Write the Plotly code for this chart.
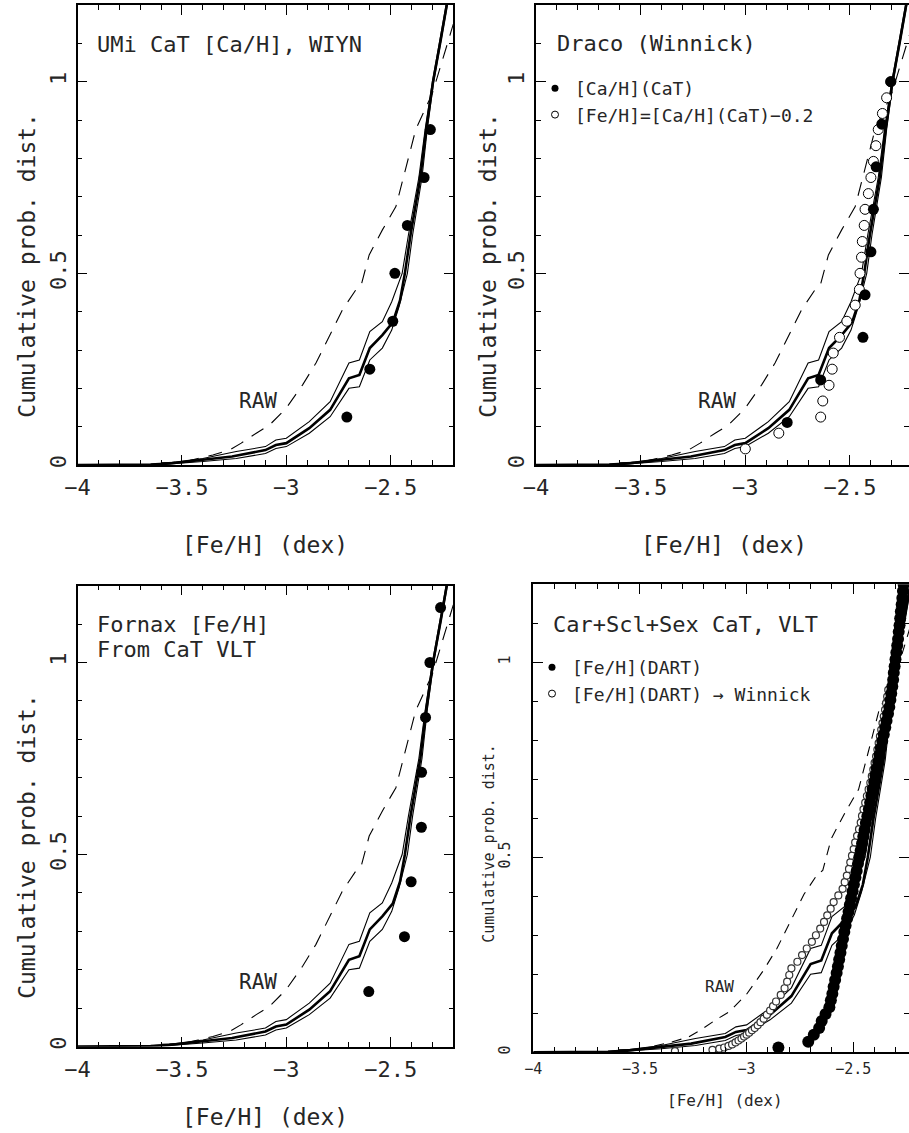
import plotly.graph_objects as go

FONT = "DejaVu Sans Mono"
TXT = "#262626"

# ---------------- model curves (same in every panel) ----------------
mid_x = [-4.00, -3.80, -3.65, -3.56, -3.40, -3.26, -3.10, -3.05, -3.00, -2.89, -2.79, -2.70,
         -2.65, -2.60, -2.54, -2.49, -2.455, -2.432, -2.405, -2.358, -2.330, -2.297, -2.260, -2.225]
mid_y = [0.0, 0.0, 0.001, 0.004, 0.013, 0.022, 0.039, 0.052, 0.057, 0.096, 0.144, 0.226,
         0.235, 0.305, 0.339, 0.372, 0.43, 0.50, 0.60, 0.75, 0.875, 1.0, 1.11, 1.22]

hi_x = [-4.00, -3.80, -3.65, -3.56, -3.40, -3.24, -3.10, -3.05, -3.00, -2.89, -2.79, -2.70,
        -2.65, -2.60, -2.54, -2.495, -2.445, -2.415, -2.365, -2.335, -2.300, -2.262, -2.228]
hi_y = [0.0, 0.0, 0.002, 0.006, 0.017, 0.035, 0.048, 0.065, 0.070, 0.113, 0.165, 0.266,
        0.274, 0.348, 0.374, 0.426, 0.50, 0.60, 0.75, 0.875, 1.0, 1.11, 1.22]

lo_x = [-4.00, -3.80, -3.65, -3.56, -3.40, -3.24, -3.10, -3.05, -3.00, -2.89, -2.79, -2.70,
        -2.65, -2.60, -2.54, -2.495, -2.46, -2.42, -2.395, -2.350, -2.325, -2.294, -2.258, -2.222]
lo_y = [0.0, 0.0, 0.0005, 0.003, 0.009, 0.017, 0.030, 0.043, 0.048, 0.083, 0.126, 0.200,
        0.204, 0.274, 0.305, 0.352, 0.413, 0.50, 0.60, 0.75, 0.875, 1.0, 1.11, 1.22]

raw_x = [-3.60, -3.495, -3.423, -3.352, -3.272, -3.216, -3.144, -3.081, -3.001, -2.985, -2.922,
         -2.858, -2.794, -2.731, -2.667, -2.643, -2.603, -2.539, -2.475, -2.412, -2.380, -2.30,
         -2.25, -2.20]
raw_y = [0.006, 0.008, 0.017, 0.026, 0.039, 0.057, 0.083, 0.104, 0.148, 0.161, 0.209,
         0.266, 0.335, 0.405, 0.457, 0.466, 0.548, 0.614, 0.674, 0.805, 0.875, 0.97,
         1.06, 1.15]

# ---------------- panel 1: UMi ----------------
umi_x = [-2.71, -2.60, -2.49, -2.48, -2.42, -2.34, -2.31]
umi_y = [0.125, 0.25, 0.375, 0.5, 0.625, 0.75, 0.875]

# ---------------- panel 2: Draco ----------------
dra_ca_x = [-2.80, -2.64, -2.438, -2.428, -2.400, -2.388, -2.375, -2.348, -2.305]
dra_ca_y = [0.111, 0.222, 0.333, 0.444, 0.556, 0.667, 0.778, 0.889, 1.0]

dra_fe_x = [-3.00, -2.84, -2.64, -2.63, -2.60, -2.585, -2.58, -2.55, -2.515, -2.475, -2.455, -2.452,
            -2.445, -2.441, -2.432, -2.428, -2.412, -2.40, -2.388, -2.376, -2.365, -2.345, -2.325, -2.305]
dra_fe_y = [0.042, 0.083, 0.125, 0.167, 0.208, 0.25, 0.292, 0.333, 0.375, 0.417, 0.458, 0.5,
            0.542, 0.583, 0.625, 0.667, 0.708, 0.75, 0.792, 0.833, 0.875, 0.917, 0.958, 1.0]

# ---------------- panel 3: Fornax ----------------
fnx_x = [-2.605, -2.434, -2.402, -2.353, -2.352, -2.333, -2.312, -2.261]
fnx_y = [0.143, 0.286, 0.429, 0.571, 0.714, 0.857, 1.0, 1.143]

# ---------------- panel 4: Car+Scl+Sex ----------------
dart_x = [-2.851, -2.711, -2.685, -2.660, -2.648, -2.630, -2.612, -2.605, -2.598, -2.592,
          -2.585, -2.578, -2.572, -2.566, -2.560, -2.554, -2.548, -2.542, -2.536, -2.529,
          -2.522, -2.516, -2.510, -2.503, -2.497, -2.490, -2.484, -2.478, -2.472, -2.465,
          -2.459, -2.453, -2.447, -2.441, -2.434, -2.427, -2.421, -2.415, -2.409, -2.402,
          -2.396, -2.390, -2.383, -2.377, -2.371, -2.364, -2.357, -2.350, -2.344, -2.337,
          -2.331, -2.326, -2.322, -2.317, -2.313, -2.310, -2.306, -2.302, -2.298, -2.294,
          -2.290, -2.287, -2.283, -2.280, -2.277, -2.273, -2.270, -2.267, -2.264, -2.260]
dart_y = [0.012, 0.027, 0.045, 0.062, 0.080, 0.098, 0.115, 0.133, 0.150, 0.168,
          0.185, 0.203, 0.220, 0.238, 0.255, 0.273, 0.290, 0.308, 0.325, 0.343,
          0.360, 0.378, 0.395, 0.413, 0.430, 0.448, 0.465, 0.483, 0.500, 0.518,
          0.535, 0.553, 0.570, 0.588, 0.605, 0.623, 0.640, 0.658, 0.675, 0.693,
          0.710, 0.728, 0.745, 0.763, 0.780, 0.798, 0.815, 0.833, 0.850, 0.868,
          0.885, 0.903, 0.920, 0.938, 0.955, 0.973, 0.990, 1.008, 1.025, 1.043,
          1.060, 1.078, 1.095, 1.113, 1.130, 1.148, 1.165, 1.183, 1.200, 1.218]

win_x = [-3.336, -3.160, -3.128, -3.105, -3.085, -3.068, -3.052, -3.038, -3.024, -3.012,
         -3.000, -2.988, -2.975, -2.962, -2.948, -2.935, -2.920, -2.905, -2.890, -2.876,
         -2.862, -2.840, -2.822, -2.810, -2.800, -2.790, -2.762, -2.740, -2.718, -2.694,
         -2.675, -2.655, -2.637, -2.622, -2.606, -2.592, -2.570, -2.550, -2.540, -2.530,
         -2.520, -2.514, -2.506, -2.498, -2.491, -2.482, -2.473, -2.465, -2.459, -2.452,
         -2.444, -2.436, -2.428, -2.420, -2.413, -2.406, -2.400, -2.393, -2.387, -2.381,
         -2.375, -2.369, -2.363, -2.357, -2.351, -2.346, -2.341, -2.336]
win_y = [0.003, 0.006, 0.009, 0.012, 0.016, 0.020, 0.025, 0.030, 0.035, 0.040,
         0.045, 0.050, 0.056, 0.062, 0.069, 0.077, 0.086, 0.096, 0.107, 0.118,
         0.130, 0.147, 0.164, 0.181, 0.198, 0.215, 0.232, 0.249, 0.266, 0.283,
         0.300, 0.317, 0.334, 0.351, 0.368, 0.385, 0.402, 0.419, 0.436, 0.453,
         0.470, 0.487, 0.504, 0.521, 0.538, 0.555, 0.572, 0.589, 0.606, 0.623,
         0.640, 0.657, 0.674, 0.691, 0.708, 0.725, 0.742, 0.759, 0.776, 0.793,
         0.810, 0.827, 0.844, 0.861, 0.878, 0.895, 0.912, 0.929]

x_ticks = [-4, -3.5, -3, -2.5]
x_tick_text = ["\u22124", "\u22123.5", "\u22123", "\u22122.5"]
y_ticks = [0, 0.5, 1]
y_tick_text = ["0", "0.5", "1"]

W, H = 909, 1133

panels = {
    1: dict(l=77.6, r=453.3, t=5.0, b=465.0, xmax=-2.2, fs=22),
    2: dict(l=536.0, r=909.0, t=5.0, b=465.0, xmax=-2.218, fs=22),
    3: dict(l=77.6, r=453.3, t=585.7, b=1046.5, xmax=-2.2, fs=22),
    4: dict(l=533.3, r=909.0, t=584.3, b=1052.2, xmax=-2.2387, fs=15),
}

fig = go.Figure()


def add_model(k, dash):
    xa, ya = ("x" if k == 1 else f"x{k}"), ("y" if k == 1 else f"y{k}")
    fig.add_trace(go.Scatter(x=raw_x, y=raw_y, mode="lines", xaxis=xa, yaxis=ya, showlegend=False,
                             line=dict(color="black", width=1.1, dash=dash)))
    fig.add_trace(go.Scatter(x=hi_x, y=hi_y, mode="lines", xaxis=xa, yaxis=ya, showlegend=False,
                             line=dict(color="black", width=1.1)))
    fig.add_trace(go.Scatter(x=lo_x, y=lo_y, mode="lines", xaxis=xa, yaxis=ya, showlegend=False,
                             line=dict(color="black", width=1.1)))
    fig.add_trace(go.Scatter(x=mid_x, y=mid_y, mode="lines", xaxis=xa, yaxis=ya, showlegend=False,
                             line=dict(color="black", width=2.6)))


for k in (1, 2, 3):
    add_model(k, "14px,10px")
add_model(4, "10px,8px")

fig.add_trace(go.Scatter(x=umi_x, y=umi_y, mode="markers", xaxis="x", yaxis="y", showlegend=False,
                         marker=dict(size=11, color="black")))
fig.add_trace(go.Scatter(x=dra_fe_x, y=dra_fe_y, mode="markers", xaxis="x2", yaxis="y2", showlegend=False,
                         marker=dict(size=10, color="white", line=dict(color="black", width=1))))
fig.add_trace(go.Scatter(x=dra_ca_x, y=dra_ca_y, mode="markers", xaxis="x2", yaxis="y2", showlegend=False,
                         marker=dict(size=11, color="black")))
fig.add_trace(go.Scatter(x=fnx_x, y=fnx_y, mode="markers", xaxis="x3", yaxis="y3", showlegend=False,
                         marker=dict(size=11, color="black")))
fig.add_trace(go.Scatter(x=win_x, y=win_y, mode="markers", xaxis="x4", yaxis="y4", showlegend=False,
                         marker=dict(size=7, color="white", line=dict(color="#333333", width=1.2))))
fig.add_trace(go.Scatter(x=dart_x, y=dart_y, mode="markers", xaxis="x4", yaxis="y4", showlegend=False,
                         marker=dict(size=12, color="black")))

# legend entries
fig.add_trace(go.Scatter(x=[None], y=[None], mode="markers", xaxis="x2", yaxis="y2", legend="legend2",
                         name="[Ca/H](CaT)", marker=dict(size=7, color="black")))
fig.add_trace(go.Scatter(x=[None], y=[None], mode="markers", xaxis="x2", yaxis="y2", legend="legend2",
                         name="[Fe/H]=[Ca/H](CaT)\u22120.2",
                         marker=dict(size=7, color="white", line=dict(color="black", width=1))))
fig.add_trace(go.Scatter(x=[None], y=[None], mode="markers", xaxis="x4", yaxis="y4", legend="legend3",
                         name="[Fe/H](DART)", marker=dict(size=7, color="black")))
fig.add_trace(go.Scatter(x=[None], y=[None], mode="markers", xaxis="x4", yaxis="y4", legend="legend3",
                         name="[Fe/H](DART) \u2192 Winnick",
                         marker=dict(size=7, color="white", line=dict(color="black", width=1))))

layout = dict(width=W, height=H, margin=dict(l=0, r=0, t=0, b=0, pad=0),
              paper_bgcolor="white", plot_bgcolor="white", showlegend=True)

for k, p in panels.items():
    xk = "xaxis" if k == 1 else f"xaxis{k}"
    yk = "yaxis" if k == 1 else f"yaxis{k}"
    xa = "x" if k == 1 else f"x{k}"
    ya = "y" if k == 1 else f"y{k}"
    big = p["fs"] > 20
    common = dict(showline=True, linecolor="black", linewidth=1.5, mirror="allticks",
                  ticks="inside", ticklen=10, tickwidth=1, tickcolor="black",
                  showgrid=False, zeroline=False, automargin=False, fixedrange=True,
                  tickfont=dict(family=FONT, size=p["fs"], color=TXT),
                  tickmode="array")
    layout[xk] = dict(common, domain=[p["l"] / W, p["r"] / W], range=[-4, p["xmax"]], anchor=ya,
                      tickvals=x_ticks, ticktext=x_tick_text,
                      ticklabelstandoff=2 if big else 2,
                      minor=dict(ticks="inside", ticklen=5, tickwidth=1, tickcolor="black",
                                 tick0=-4, dtick=0.1, showgrid=False))
    layout[yk] = dict(common, domain=[1 - p["b"] / H, 1 - p["t"] / H], range=[0, 1.2], anchor=xa,
                      tickvals=y_ticks, ticktext=y_tick_text, tickangle=-90,
                      ticklabelstandoff=1 if big else 16,
                      minor=dict(ticks="inside", ticklen=5, tickwidth=1, tickcolor="black",
                                 tick0=0, dtick=0.1, showgrid=False))

layout["legend2"] = dict(x=535 / W, y=1 - 70 / H, xanchor="left", yanchor="top",
                         bgcolor="rgba(0,0,0,0)", borderwidth=0, tracegroupgap=0,
                         font=dict(family=FONT, size=18, color=TXT))
layout["legend3"] = dict(x=532 / W, y=1 - 649 / H, xanchor="left", yanchor="top",
                         bgcolor="rgba(0,0,0,0)", borderwidth=0, tracegroupgap=0,
                         font=dict(family=FONT, size=18, color=TXT))

fig.update_layout(**layout)

ann = []


def text(s, xref, x, yref, y, size, xanchor="left", angle=0):
    ann.append(dict(text=s, xref=xref, x=x, yref=yref, y=y, showarrow=False, xanchor=xanchor,
                    yanchor="middle", textangle=angle,
                    font=dict(family=FONT, size=size, color=TXT)))


# panel titles
text("UMi CaT [Ca/H], WIYN", "x", -3.915, "y", 1.097, 22)
text("Draco (Winnick)", "x2", -3.91, "y2", 1.10, 22)
text("Fornax [Fe/H]", "x3", -3.915, "y3", 1.099, 22)
text("From CaT VLT", "x3", -3.915, "y3", 1.033, 22)
text("Car+Scl+Sex CaT, VLT", "x4", -3.915, "y4", 1.098, 22)
# RAW labels
for xr, yr in (("x", "y"), ("x2", "y2"), ("x3", "y3")):
    text("RAW", xr, -3.137, yr, 0.168, 21, xanchor="center")
text("RAW", "x4", -3.125, "y4", 0.168, 16, xanchor="center")
# axis titles
text("[Fe/H] (dex)", "x", -3.1, "paper", 1 - 545 / H, 23, xanchor="center")
text("[Fe/H] (dex)", "x2", -3.1, "paper", 1 - 545 / H, 23, xanchor="center")
text("[Fe/H] (dex)", "x3", -3.1, "paper", 1 - 1117 / H, 23, xanchor="center")
text("[Fe/H] (dex)", "x4", -3.1, "paper", 1 - 1100 / H, 16, xanchor="center")
text("Cumulative prob. dist.", "paper", 27 / W, "y", 0.52, 23, xanchor="center", angle=-90)
text("Cumulative prob. dist.", "paper", 488 / W, "y2", 0.52, 23, xanchor="center", angle=-90)
text("Cumulative prob. dist.", "paper", 27 / W, "y3", 0.52, 23, xanchor="center", angle=-90)
text("Cumulative prob. dist.", "paper", 489 / W, "y4", 0.537, 15, xanchor="center", angle=-90)

fig.update_layout(annotations=ann)

fig.write_html("out.html", config={"displayModeBar": False},
               post_script="document.body.style.margin='0px';")
